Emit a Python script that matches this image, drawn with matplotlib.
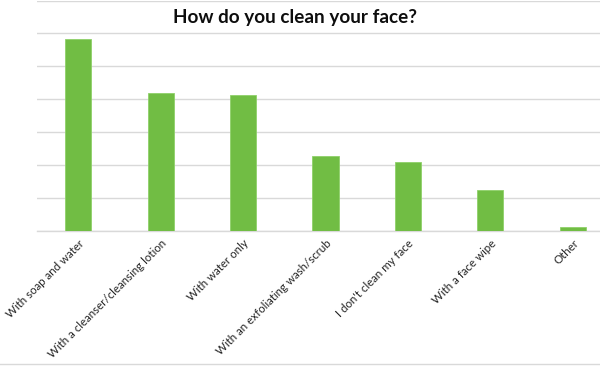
import matplotlib
matplotlib.use("Agg")
import matplotlib.pyplot as plt
from matplotlib.lines import Line2D

categories = ["With soap and water", "With a cleanser/cleansing lotion", "With water only",
              "With an exfoliating wash/scrub", "I don't clean my face", "With a face wipe", "Other"]
values = [29.2, 21.0, 20.6, 11.4, 10.5, 6.2, 0.6]
title = "How do you clean your face?"

plt.rcParams['font.family'] = ['Lato', 'DejaVu Sans']

fig = plt.figure(figsize=(6, 3.71), dpi=100)
W, H = 600, 371
left, right, top, bottom = 37, 614, 0.5, 231
ax = fig.add_axes([left / W, 1 - bottom / H, (right - left) / W, (bottom - top) / H])

x = range(len(categories))
ax.bar(x, values, width=0.316, color="#71BD44", edgecolor="#8FD16A", linewidth=0.6, zorder=3)
ax.set_xlim(-0.5, len(categories) - 0.5)
ax.set_ylim(0, 35)
ax.set_yticks([0, 5, 10, 15, 20, 25, 30, 35])
ax.yaxis.grid(True, color="#D9D9D9", linewidth=1.0, zorder=0)
ax.set_yticklabels([])
ax.tick_params(axis='y', length=0)
for s in ["top", "right", "left"]:
    ax.spines[s].set_visible(False)
ax.spines["bottom"].set_color("#D9D9D9")
ax.spines["bottom"].set_linewidth(1.0)
ax.set_xticks(list(x))
ax.set_xticklabels(categories, rotation=45, ha='right', va='top', rotation_mode='anchor',
                   fontsize=8.3, color="#262626")
ax.tick_params(axis='x', length=0, pad=5)

fig.text(295 / W, 1 - 17 / H, title, ha='center', va='center', fontsize=13.6,
         fontweight='bold', color="#0D0D0D")
fig.add_artist(Line2D([0, 1], [1 - 364 / H, 1 - 364 / H], transform=fig.transFigure,
                      color="#D9D9D9", linewidth=1.0))

fig.savefig("out.png", dpi=100)
